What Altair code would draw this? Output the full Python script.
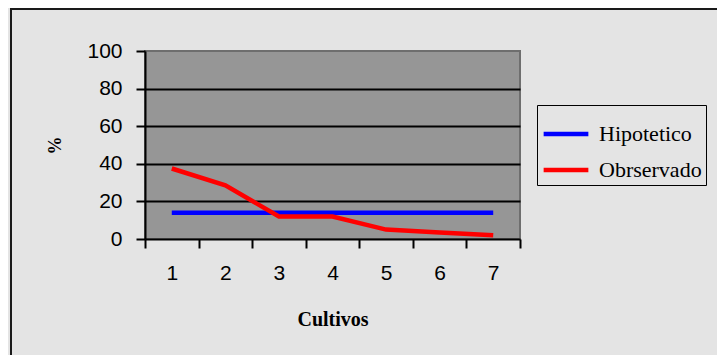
import altair as alt
import pandas as pd

cultivos = [1, 2, 3, 4, 5, 6, 7]
hipotetico = [14, 14, 14, 14, 14, 14, 14]
observado = [37.5, 28.5, 12, 12, 5, 3.5, 2]
series_names = ["Hipotetico", "Obrservado"]
y_ticks = [0, 20, 40, 60, 80, 100]
x_ticks = [0.5, 1, 1.5, 2, 2.5, 3, 3.5, 4, 4.5, 5, 5.5, 6, 6.5, 7, 7.5]

rows = []
for c, h in zip(cultivos, hipotetico):
    rows.append({"Cultivos": c, "valor": h, "serie": series_names[0]})
for c, o in zip(cultivos, observado):
    rows.append({"Cultivos": c, "valor": o, "serie": series_names[1]})
df = pd.DataFrame(rows)

sans = "Liberation Sans"
serif = "Liberation Serif"

lines = alt.Chart(df).mark_line(strokeWidth=4.5).encode(
    x=alt.X(
        "Cultivos:Q",
        scale=alt.Scale(domain=[0.5, 7.5], nice=False, zero=False),
        axis=alt.Axis(
            values=x_ticks,
            labelExpr="datum.value % 1 === 0 ? format(datum.value, 'd') : ''",
            tickColor={"condition": {"test": "datum.value % 1 !== 0", "value": "black"}, "value": "transparent"},
            tickSize=9,
            tickWidth=2,
            domainColor="black",
            domainWidth=2,
            grid=False,
            labelFont=sans,
            labelFontSize=21,
            labelColor="black",
            labelPadding=14,
            labelBaseline="top",
            title="Cultivos",
            titleFont=serif,
            titleFontSize=20,
            titleFontWeight="bold",
            titleColor="black",
            titleY=80,
            titleBaseline="middle",
        ),
    ),
    y=alt.Y(
        "valor:Q",
        scale=alt.Scale(domain=[0, 100], nice=False),
        axis=alt.Axis(
            values=y_ticks,
            tickSize=9,
            tickWidth=2,
            tickColor="black",
            domainColor="black",
            domainWidth=2,
            grid=True,
            gridColor="black",
            gridWidth=2,
            gridOpacity={"condition": {"test": "datum.value === 100 || datum.value === 0", "value": 0}, "value": 1},
            labelFont=sans,
            labelFontSize=21,
            labelColor="black",
            labelPadding=14,
            title="%",
            titleFont=serif,
            titleFontSize=18,
            titleFontWeight="bold",
            titleColor="black",
            titleX=-90,
            titleY=94,
            titleAlign="center",
            titleBaseline="middle",
        ),
    ),
    color=alt.Color(
        "serie:N",
        scale=alt.Scale(domain=series_names, range=["#0000ff", "#ff0000"]),
        legend=alt.Legend(
            title=None,
            orient="none",
            legendX=392,
            legendY=54,
            strokeColor="black",
            padding=4,
            symbolType="stroke",
            symbolSize=2000,
            symbolStrokeWidth=4.5,
            labelFont=serif,
            labelFontSize=22,
            labelColor="black",
            labelOffset=8,
            rowPadding=0,
        ),
    ),
)

border_data = alt.Data(values=[{"k": 1}])
left_border = alt.Chart(border_data).mark_rule(color="#1a1a1a", strokeWidth=2).encode(
    x=alt.value(-134), y=alt.value(-42), y2=alt.value(400)
)
top_border = alt.Chart(border_data).mark_rule(color="#1a1a1a", strokeWidth=2).encode(
    x=alt.value(-135), x2=alt.value(700), y=alt.value(-42)
)

chart = alt.layer(lines, left_border, top_border).properties(
    width=375,
    height=188,
    autosize=alt.AutoSizeParams(type="none"),
    padding={"left": 137, "top": 43, "right": 197, "bottom": 116},
    background="#e4e4e4",
).configure_view(
    fill="#969696",
    stroke="#6e6e6e",
    strokeWidth=2,
)

chart.save("out.html", embed_options={"renderer": "svg", "actions": False})
